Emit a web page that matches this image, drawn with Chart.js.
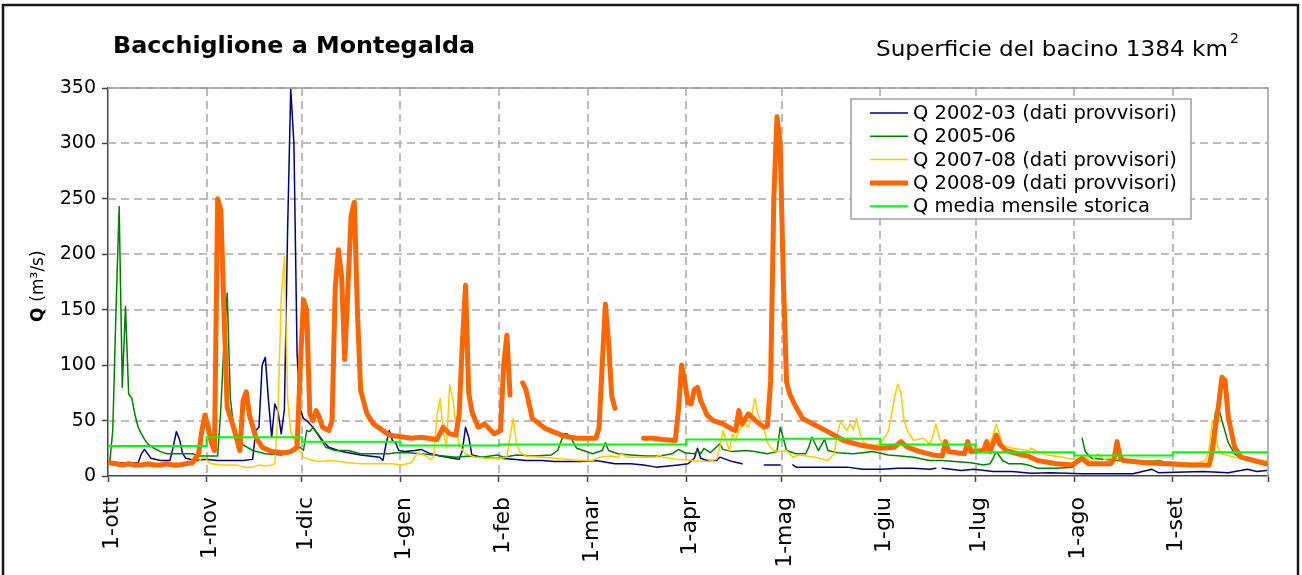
<!DOCTYPE html>
<html>
<head>
<meta charset="utf-8">
<script src="https://cdn.jsdelivr.net/npm/chart.js@4.4.0/dist/chart.umd.min.js"></script>
<style>
  html, body { margin: 0; padding: 0; background: #fff; }
  canvas { display: block; }
</style>
</head>
<body>
<canvas id="c" width="1302" height="575"></canvas>
<script>
// Hydrological year: day 0 = 1 October, day 365 = end of September
const monthStarts = [0, 31, 61, 92, 123, 151, 182, 212, 243, 273, 304, 335];
const monthLabels = ['1-ott', '1-nov', '1-dic', '1-gen', '1-feb', '1-mar', '1-apr', '1-mag', '1-giu', '1-lug', '1-ago', '1-set'];
const yearEnd = 365;
const yTicks = [0, 50, 100, 150, 200, 250, 300, 350];

// Historical monthly mean discharge (m3/s), Oct..Sep
const monthlyMean = [27, 35, 31, 27.5, 28.5, 28.5, 33, 33.5, 28.5, 21.5, 18.5, 21.5];

// Daily discharge, 2002-03 (day index, m3/s); null marks missing data
const days0203 = [0,3,6,9,10,11,12,13,16,19,20,21,22,23,24,27,30,34,42,45,46,47,48,49,50,51,52,53,54,55,56,57,58,59,60,61,62,64,67,69,73,79,85,86,87,88,89,90,91,93,96,98,101,104,108,110,111,112,113,114,117,120,123,127,131,136,140,144,148,153,159,164,168,172,179,182,184,185,186,188,191,192,194,196,199,200,206,211,212,215,216,220,225,227,232,237,243,248,253,258,260,261,262,268,272,278,284,290,296,306,322,328,330,344,352,358,361,364];
const q0203    = [13,12,12,12,20,24,20,16,14,14,26,40,33,20,16,14,15,14,14,15,41,44,100,107,68,35,65,58,38,60,220,349,300,110,60,52,50,44,32,26,22,19,17,14,29,41,32,30,23,22,23,24,20,18,16,15,23,44,35,19,17,16,16,15,14,14,13,13,13,14,11,11,10,8,10,11,16,25,16,14,14,17,15,13,11,null,10,10,null,10,8,8,8,8,8,6,6,7,7,6,7,null,7,5,6,4,4,2.5,3,2,2,6,3,4,3,6,4,5];

// Daily discharge, 2005-06
const days0506 = [0,1,2,3,4,5,6,7,8,9,10,11,12,14,16,18,22,26,28,34,35,36,37,38,39,40,42,45,49,54,58,60,61,62,63,64,66,68,71,75,79,84,88,90,94,98,102,109,113,117,122,124,128,134,139,141,142,143,144,145,147,152,155,156,157,160,164,169,173,177,179,181,184,185,186,187,189,192,193,196,200,203,207,210,211,212,213,216,219,220,221,223,225,226,229,234,237,240,242,245,249,253,258,262,266,271,275,277,278,279,281,283,287,289,292,298,303,304,306,307,309,317,322,330,333,342,346,347,348,349,350,351,352,354,356,359,364];
const q0506    = [11,41,147,243,80,153,74,70,55,44,38,33,29,25,22,20,20,20,18,18,60,120,165,70,45,36,28,23,20,19,22,26,23,41,40,44,35,26,23,23,20,20,20,21,21,20,19,17,18,17,19,17,19,18,19,23,31,38,38,35,25,20,23,30,23,20,19,18,18,20,24,21,20,23,20,25,21,29,24,22,23,22,20,22,44,34,23,20,20,26,35,23,33,23,21,20,21,22,21,19,18,17,14,14,13,12,10,11,16,22,14,11,11,10,7,7,8,null,34,22,16,14,13,14,12,11,11,35,58,61,50,40,30,20,16,14,13];

// Daily discharge, 2007-08
const days0708 = [0,5,10,15,20,25,28,29,30,31,32,35,40,42,45,47,49,51,52,53,54,55,56,57,59,61,64,66,70,75,79,84,89,92,95,96,97,99,101,102,103,104,105,106,107,108,109,110,112,115,119,123,125,126,127,128,129,131,136,140,144,148,152,154,158,160,161,163,168,172,173,174,179,183,188,191,192,193,194,195,196,197,198,200,201,202,203,204,206,207,208,209,211,213,215,217,222,226,228,229,230,231,232,233,234,235,236,237,239,242,243,245,246,247,248,249,250,251,253,256,258,259,260,261,263,268,271,272,273,276,278,279,280,281,284,289,290,292,295,300,303,305,307,309,311,313,315,320,331,341,345,346,347,348,349,350,354,358,364];
const q0708    = [11,11,11,10,11,11,13,16,17,13,11,10,10,8,8,10,9,10,11,60,160,198,70,40,26,17,14,13,14,12,11,11,11,10,12,17,21,19,15,17,55,70,40,25,82,70,45,28,20,17,16,16,17,35,52,30,22,18,17,16,15,14,14,17,18,17,20,17,17,17,19,17,15,14,13,15,26,41,32,23,38,32,41,47,44,53,70,56,41,30,26,23,22,23,17,19,17,14,20,38,49,45,41,47,42,52,40,31,28,28,31,40,55,71,83,75,50,41,32,34,29,35,47,35,22,20,22,28,23,23,37,47,38,28,25,23,25,22,19,17,15,16,17,13,20,15,16,14,13,11,14,25,50,35,24,20,17,15,14];

// Daily discharge, 2008-09
const days0809 = [0,2,4,6,8,10,12,14,16,18,20,22,24,26,28,29,30,31,32,33,34,35,36,37,39,41,42,43,44,46,48,51,55,57,59,60,61,62,63,64,65,66,67,69,70,71,72,73,74,75,76,77,78,79,81,83,85,88,90,95,98,103,105,107,109,110,111,112,113,114,116,118,121,123,124,125,126,127,130,131,133,137,143,147,153,154,155,156,157,158,159,160,168,171,174,178,179,180,181,182,183,184,185,186,188,190,193,196,197,198,199,201,204,206,207,208,209,210,211,212,213,214,216,218,222,226,231,236,242,247,249,251,255,259,262,263,264,269,270,271,275,276,277,279,280,282,287,289,292,298,303,306,308,315,316,317,318,319,326,333,340,346,347,348,349,350,351,352,354,356,360,364];
const q0809    = [12,11,10,11,10,10,11,10,10,11,10,10,11,12,20,40,55,45,30,23,250,240,147,62,44,23,68,76,55,35,26,22,21,22,26,98,159,150,56,50,59,53,44,41,50,170,204,180,105,170,235,247,147,77,56,47,43,37,36,34,35,33,44,38,37,56,120,172,75,58,44,47,38,41,100,127,73,null,84,78,52,43,36,34,34,43,100,155,120,72,61,null,34,34,33,32,60,100,85,66,65,78,80,68,55,50,47,42,41,59,47,56,48,44,45,86,250,324,300,177,85,74,62,52,46,40,32,28,25,26,31,26,22,19,18,31,22,20,31,22,23,31,22,37,29,23,19,18,14,11,10,16,11,11,15,31,17,14,12,11,10,10,23,45,65,89,86,53,26,17,14,11];

const seriesNames = ['Q 2002-03 (dati provvisori)', 'Q 2005-06', 'Q 2007-08 (dati provvisori)', 'Q 2008-09 (dati provvisori)', 'Q media mensile storica'];

// daily values sit at the middle of their day
function dailyPoints(days, vals) {
  return days.map((d, i) => ({ x: d + 0.5, y: vals[i] }));
}
function meanPoints() {
  const pts = monthStarts.map((d, i) => ({ x: d, y: monthlyMean[i] }));
  pts.push({ x: yearEnd, y: monthlyMean[monthlyMean.length - 1] });
  return pts;
}

const FONT = 'DejaVu Sans';
const GRID_COLOR = '#a8a8a8';
const GRID_DASH = [8, 5];

// Draws text stretched/squeezed to an exact width
function fitText(ctx, text, x, y, width, font) {
  ctx.font = font;
  const w = ctx.measureText(text).width;
  ctx.save();
  ctx.translate(x, y);
  ctx.scale(width / w, 1);
  ctx.fillText(text, 0, 0);
  ctx.restore();
}

const decor = {
  id: 'decor',
  beforeDraw(chart) {
    const ctx = chart.ctx;
    ctx.save();
    ctx.fillStyle = '#fff';
    ctx.fillRect(0, 0, chart.width, chart.height);
    ctx.restore();
  },
  // dashed grid at the y ticks and at every month start
  beforeDatasetsDraw(chart) {
    const ctx = chart.ctx;
    const a = chart.chartArea;
    const xs = chart.scales.x, ys = chart.scales.y;
    ctx.save();
    ctx.strokeStyle = GRID_COLOR;
    ctx.lineWidth = 1.5;
    ctx.setLineDash(GRID_DASH);
    yTicks.slice(1).forEach(v => {
      const y = Math.round(ys.getPixelForValue(v));
      ctx.beginPath();
      ctx.moveTo(a.left, y);
      ctx.lineTo(a.right, y);
      ctx.stroke();
    });
    monthStarts.slice(1).forEach(d => {
      const x = Math.round(xs.getPixelForValue(d));
      ctx.beginPath();
      ctx.moveTo(x, a.top);
      ctx.lineTo(x, a.bottom);
      ctx.stroke();
    });
    ctx.restore();
  },
  afterDraw(chart) {
    const ctx = chart.ctx;
    const a = chart.chartArea;
    ctx.save();

    // plot area border (top and right)
    ctx.strokeStyle = '#9a9a9a';
    ctx.lineWidth = 1.5;
    ctx.beginPath();
    ctx.moveTo(a.left, a.top);
    ctx.lineTo(a.right, a.top);
    ctx.lineTo(a.right, a.bottom);
    ctx.stroke();

    // legend box
    const lx = 851, ly = 99, lw = 340, lh = 120, row = 23.3;
    ctx.fillStyle = '#fff';
    ctx.fillRect(lx, ly, lw, lh);
    ctx.strokeStyle = '#a0a0a0';
    ctx.lineWidth = 1.5;
    ctx.strokeRect(lx, ly, lw, lh);
    ctx.font = '19.5px "' + FONT + '"';
    ctx.textBaseline = 'middle';
    ctx.textAlign = 'left';
    chart.data.datasets.forEach((ds, i) => {
      const cy = ly + 14 + i * row;
      ctx.strokeStyle = ds.borderColor;
      ctx.lineWidth = ds.borderWidth;
      ctx.lineCap = 'butt';
      ctx.beginPath();
      ctx.moveTo(870, cy);
      ctx.lineTo(908, cy);
      ctx.stroke();
      ctx.fillStyle = '#000';
      ctx.fillText(ds.label, 913, cy + 1);
    });

    // titles
    ctx.fillStyle = '#000';
    ctx.textBaseline = 'alphabetic';
    fitText(ctx, 'Bacchiglione a Montegalda', 113, 53, 362, 'bold 23px "' + FONT + '"');
    fitText(ctx, 'Superficie del bacino 1384 km', 876, 56, 352, '22px "' + FONT + '"');
    ctx.font = '14px "' + FONT + '"';
    ctx.fillText('2', 1230, 43);

    // y-axis title: bold Q followed by the unit
    ctx.save();
    ctx.translate(39, 322);
    ctx.rotate(-Math.PI / 2);
    ctx.textBaseline = 'middle';
    ctx.font = 'bold 17px "' + FONT + '"';
    ctx.fillText('Q', 0, 0);
    const qw = ctx.measureText('Q ').width;
    ctx.font = '17px "' + FONT + '"';
    ctx.fillText('(m\u00B3/s)', qw, 0);
    ctx.restore();

    // outer frame
    ctx.strokeStyle = '#1a1a1a';
    ctx.lineWidth = 2.5;
    ctx.strokeRect(3, 5, 1295, 620);

    ctx.restore();
  }
};

new Chart(document.getElementById('c'), {
  type: 'line',
  data: {
    datasets: [
      { label: seriesNames[0], data: dailyPoints(days0203, q0203), borderColor: '#000080', borderWidth: 1.5, order: 5 },
      { label: seriesNames[1], data: dailyPoints(days0506, q0506), borderColor: '#008000', borderWidth: 1.5, order: 4 },
      { label: seriesNames[2], data: dailyPoints(days0708, q0708), borderColor: '#ffcc00', borderWidth: 1.5, order: 3 },
      { label: seriesNames[3], data: dailyPoints(days0809, q0809), borderColor: '#ff6600', borderWidth: 5, order: 2 },
      { label: seriesNames[4], data: meanPoints(), borderColor: '#00ff00', borderWidth: 2, stepped: 'before', order: 1 }
    ]
  },
  options: {
    responsive: false,
    devicePixelRatio: 1,
    animation: false,
    spanGaps: false,
    elements: {
      point: { radius: 0, hoverRadius: 0 },
      line: { tension: 0, borderJoinStyle: 'round', borderCapStyle: 'round', fill: false }
    },
    layout: { padding: { left: 0, top: 88, right: 34, bottom: 0 } },
    plugins: {
      legend: { display: false },
      tooltip: { enabled: false },
      title: { display: false }
    },
    scales: {
      x: {
        type: 'linear',
        min: 0,
        max: yearEnd,
        afterBuildTicks(axis) {
          axis.ticks = monthStarts.concat([yearEnd]).map(v => ({ value: v }));
        },
        afterFit(scale) {
          scale.height = 99;
          scale.paddingLeft = 0;
          scale.paddingRight = 0;
        },
        ticks: {
          autoSkip: false,
          minRotation: 90,
          maxRotation: 90,
          padding: 15,
          labelOffset: 4,
          color: '#000',
          font: { family: FONT, size: 22 },
          callback(v) {
            const i = monthStarts.indexOf(v);
            return i >= 0 ? monthLabels[i] : '';
          }
        },
        grid: { drawOnChartArea: false, color: GRID_COLOR, tickColor: '#444', tickLength: 6, tickWidth: 1.5 },
        border: { display: true, color: '#444', width: 1.5 }
      },
      y: {
        min: 0,
        max: 350,
        afterBuildTicks(axis) {
          axis.ticks = yTicks.map(v => ({ value: v }));
        },
        afterFit(scale) { scale.width = 108; },
        ticks: {
          color: '#000',
          padding: 6,
          font: { family: FONT, size: 19 }
        },
        grid: { drawOnChartArea: false, color: GRID_COLOR, tickColor: '#444', tickLength: 6, tickWidth: 1.5 },
        border: { display: true, color: '#444', width: 1.5 }
      }
    }
  },
  plugins: [decor]
});
</script>
</body>
</html>
